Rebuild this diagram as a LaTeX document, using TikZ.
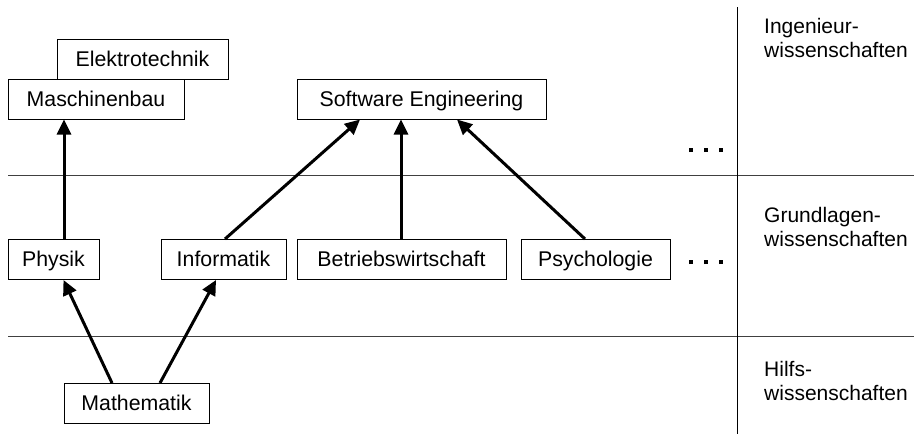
\documentclass[tikz,border=0pt]{standalone}
\usepackage{fontspec}
\setmainfont{Liberation Sans}
\usetikzlibrary{arrows.meta}
\begin{document}
\begin{tikzpicture}[x=1pt,y=-1pt,
  field/.style={draw=black, line width=1pt, fill=white, minimum height=40pt,
    inner sep=0pt, text height=19pt, text depth=5pt,
    font=\fontsize{21.3}{24}\selectfont},
  dep/.style={line width=3pt, -{Triangle[length=15pt,width=14pt]}},
  layer/.style={draw=black!75, line width=1.3pt},
  divider/.style={draw=black, line width=1pt},
  level/.style={anchor=base west, align=left, inner sep=0pt, font=\fontsize{21}{24}\selectfont},
  more/.style={inner sep=0pt}]
\useasboundingbox (0,0) rectangle (918,434);

% layer separators
\draw[layer] (8,175.5) -- (914,175.5);
\draw[layer] (8,336.5) -- (914,336.5);
\draw[divider] (737,7) -- (737,434);

% engineering disciplines
\node[field, minimum width=171pt] (et) at (142.5,59) {Elektrotechnik};
\node[field, minimum width=176pt] (mb) at (96,99) {Maschinenbau};
\node[field, minimum width=249pt] (se) at (421.5,99) {Software Engineering};

% foundational sciences
\node[field, minimum width=91pt]  (ph) at (53.5,259.5) {Physik};
\node[field, minimum width=125pt] (inf) at (223.5,259.5) {Informatik};
\node[field, minimum width=209pt] (bw) at (401.5,259.5) {Betriebswirtschaft};
\node[field, minimum width=149pt] (psy) at (595.5,259.5) {Psychologie};

% auxiliary sciences
\node[field, minimum width=145pt] (ma) at (136.5,403.5) {Mathematik};

% ellipses
\node[more] (moreA) at (706,150) {\rule{4pt}{4pt}\hspace{11pt}\rule{4pt}{4pt}\hspace{11pt}\rule{4pt}{4pt}};
\node[more] (moreB) at (706,262) {\rule{4pt}{4pt}\hspace{11pt}\rule{4pt}{4pt}\hspace{11pt}\rule{4pt}{4pt}};

% level labels (anchored at the baseline of the second line)
\node[level] (lvA) at (764,57) {Ingenieur-\\wissenschaften};
\node[level] (lvB) at (764,246) {Grundlagen-\\wissenschaften};
\node[level] (lvC) at (764,400) {Hilfs-\\wissenschaften};

% dependencies
\draw[dep] ([xshift=10.5pt]ph.north) -- ([xshift=-32pt]mb.south);
\draw[dep] ([xshift=1.5pt]inf.north) -- ([xshift=-61.5pt]se.south);
\draw[dep] ([xshift=-0.5pt]bw.north) -- ([xshift=-20.5pt]se.south);
\draw[dep] ([xshift=-10.5pt]psy.north) -- ([xshift=35.5pt]se.south);
\draw[dep] ([xshift=-24.5pt]ma.north) -- ([xshift=10pt]ph.south);
\draw[dep] ([xshift=23.5pt]ma.north) -- ([xshift=-7.5pt]inf.south);
\end{tikzpicture}
\end{document}
